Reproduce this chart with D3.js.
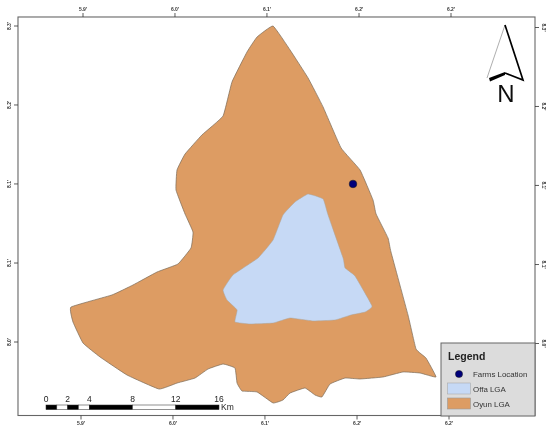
<!DOCTYPE html>
<html>
<head>
<meta charset="utf-8">
<script src="https://cdn.jsdelivr.net/npm/d3@7"></script>
<style>
body { margin: 0; background: white; }
text { font-family: "Liberation Sans", Arial, sans-serif; }
</style>
</head>
<body>
<div id="canvas"></div>
<script>
// Graticule ticks (degrees) and the labels printed on them
var lonTicks = [5.9167, 6.0, 6.0833, 6.1667, 6.25];
var lonLabels = ["5.9'", "6.0'", "6.1'", "6.2'", "6.2'"];
var latTicks = [8.3333, 8.25, 8.1667, 8.0833, 8.0];
var latLabels = ["8.3'", "8.2'", "8.1'", "8.1'", "8.0'"];

// Oyun LGA boundary
var oyunLon = [6.0902, 6.0757, 6.0666, 6.0530, 6.0449, 6.0258, 6.0105, 6.0032, 6.0023, 6.0105, 6.0177, 6.0159, 6.0041, 5.9851,
    5.9633, 5.9443, 5.9072, 5.9090, 5.9181, 5.9335, 5.9579, 5.9869, 6.0032, 6.0195, 6.0313, 6.0449, 6.0557, 6.0576, 6.0621,
    6.0757, 6.0902, 6.0992, 6.1056, 6.1191, 6.1282, 6.1345, 6.1418, 6.1554, 6.1690, 6.1898, 6.2079, 6.2233, 6.2378, 6.2287,
    6.2197, 6.2124, 6.1970, 6.1943, 6.1835, 6.1807, 6.1690, 6.1518, 6.1355, 6.1219, 6.1056];
var oyunLat = [8.3333, 8.3217, 8.3059, 8.2743, 8.2384, 8.2184, 8.1983, 8.1814, 8.1603, 8.1350, 8.1160, 8.0992, 8.0823, 8.0738,
    8.0601, 8.0496, 8.0369, 8.0211, 7.9989, 7.9842, 7.9652, 7.9504, 7.9567, 7.9620, 7.9715, 7.9768, 7.9726, 7.9567, 7.9483,
    7.9473, 7.9357, 7.9388, 7.9462, 7.9515, 7.9441, 7.9420, 7.9557, 7.9620, 7.9610, 7.9631, 7.9684, 7.9673, 7.9631, 7.9831,
    7.9926, 8.0285, 8.0949, 8.1097, 8.1350, 8.1498, 8.1814, 8.2047, 8.2479, 8.2785, 8.3080];

// Offa LGA boundary
var offaLon = [6.0992, 6.1101, 6.1219, 6.1355, 6.1400, 6.1536, 6.1554, 6.1644, 6.1798, 6.1735, 6.1608, 6.1463, 6.1264, 6.1056,
    6.0902, 6.0693, 6.0557, 6.0576, 6.0485, 6.0449, 6.0539, 6.0766, 6.0902];
var offaLat = [8.1340, 8.1477, 8.1561, 8.1509, 8.1340, 8.0886, 8.0781, 8.0696, 8.0380, 8.0316, 8.0285, 8.0232, 8.0222, 8.0253,
    8.0200, 8.0190, 8.0211, 8.0338, 8.0443, 8.0549, 8.0707, 8.0886, 8.1076];

// Farm location
var farmLon = [6.1626];
var farmLat = [8.1667];

// Scale bar
var barKm = [0, 1, 2, 3, 4, 8, 12, 16];
var barLabels = [0, 2, 4, 8, 12, 16];

// Legend
var legendLabels = ["Farms Location", "Offa LGA", "Oyun LGA"];

var width = 546;
var height = 430;
var frame = {left: 18, top: 17, right: 535, bottom: 415.5};

var oyunColor = "#dd9c63";
var offaColor = "#c6d9f5";
var farmColor = "#00007a";

var svg = d3.select("#canvas")
    .append("svg")
        .attr("width", width)
        .attr("height", height);

// The scan is a bit soft
var defs = svg.append("defs");
defs.append("filter")
        .attr("id", "soft")
        .attr("filterUnits", "userSpaceOnUse")
        .attr("x", 0)
        .attr("y", 0)
        .attr("width", width)
        .attr("height", height)
    .append("feGaussianBlur")
        .attr("stdDeviation", 0.45);

var root = svg.append("g").attr("filter", "url(#soft)");

var x = d3.scaleLinear()
    .domain([5.9167, 6.25])
    .range([81.5, 449.5]);
var y = d3.scaleLinear()
    .domain([8.0, 8.3333])
    .range([342, 26]);
var km = d3.scaleLinear()
    .domain([0, 16])
    .range([46, 219]);

function shape(lons, lats) {
    var pts = lons.map((d, i) => [x(d), y(lats[i])]);
    return d3.line().curve(d3.curveCardinalClosed.tension(0.7))(pts);
}

// Polygons
root.append("path")
    .attr("d", shape(oyunLon, oyunLat))
    .attr("fill", oyunColor)
    .attr("stroke", "#7a6a58")
    .attr("stroke-width", 0.7);
root.append("path")
    .attr("d", shape(offaLon, offaLat))
    .attr("fill", offaColor)
    .attr("stroke", "#a9a49c")
    .attr("stroke-width", 0.5);

root.selectAll(".farm")
    .data(farmLon)
    .join("circle")
        .attr("class", "farm")
        .attr("cx", d => x(d))
        .attr("cy", (d, i) => y(farmLat[i]))
        .attr("r", 3.8)
        .attr("fill", farmColor)
        .attr("stroke", "#222")
        .attr("stroke-width", 0.6);

// Frame
root.append("rect")
    .attr("x", frame.left)
    .attr("y", frame.top)
    .attr("width", frame.right - frame.left)
    .attr("height", frame.bottom - frame.top)
    .attr("fill", "none")
    .attr("stroke", "#666")
    .attr("stroke-width", 1.1);

// Graticule axes, the map is very slightly rotated so each side is shifted
function styleAxis(g) {
    g.select(".domain").remove();
    g.selectAll("line").attr("stroke", "#333").attr("stroke-width", 0.8);
    g.selectAll("text")
        .attr("font-size", 5)
        .attr("font-weight", "bold")
        .attr("fill", "#333");
}

root.append("g")
    .attr("transform", "translate(1," + frame.top + ")")
    .call(d3.axisTop(x).tickValues(lonTicks).tickSize(4).tickPadding(2).tickFormat((d, i) => lonLabels[i]))
    .call(styleAxis);
root.append("g")
    .attr("transform", "translate(-1," + frame.bottom + ")")
    .call(d3.axisBottom(x).tickValues(lonTicks).tickSize(4).tickPadding(2).tickFormat((d, i) => lonLabels[i]))
    .call(styleAxis);
root.append("g")
    .attr("transform", "translate(" + frame.left + ",-0.5)")
    .call(d3.axisLeft(y).tickValues(latTicks).tickSize(4).tickPadding(0).tickFormat((d, i) => latLabels[i]))
    .call(styleAxis)
    .selectAll("text")
        .attr("text-anchor", "middle")
        .attr("dy", 0)
        .attr("x", 0)
        .attr("y", 0)
        .attr("transform", "translate(-7,0) rotate(-90)");
root.append("g")
    .attr("transform", "translate(" + frame.right + ",1)")
    .call(d3.axisRight(y).tickValues(latTicks).tickSize(4).tickPadding(0).tickFormat((d, i) => latLabels[i]))
    .call(styleAxis)
    .selectAll("text")
        .attr("text-anchor", "middle")
        .attr("dy", 0)
        .attr("x", 0)
        .attr("y", 0)
        .attr("transform", "translate(7,0) rotate(90)");

// Scale bar
var bar = root.append("g");
bar.selectAll("rect")
    .data(barKm.slice(0, -1))
    .join("rect")
        .attr("x", d => km(d))
        .attr("y", 405)
        .attr("width", (d, i) => km(barKm[i + 1]) - km(d))
        .attr("height", 4.6)
        .attr("fill", (d, i) => i % 2 == 0 ? "black" : "white")
        .attr("stroke", "#222")
        .attr("stroke-width", 0.5);
bar.selectAll("text")
    .data(barLabels)
    .join("text")
        .attr("x", d => km(d))
        .attr("y", 401.5)
        .attr("text-anchor", "middle")
        .attr("font-size", 8.5)
        .attr("fill", "#222")
        .text(d => d);
bar.append("text")
    .attr("x", 221)
    .attr("y", 410)
    .attr("font-size", 8.5)
    .attr("fill", "#222")
    .text("Km");

// North arrow
var arrow = root.append("g");
arrow.append("path")
    .attr("d", "M505,25L487,78")
    .attr("stroke", "#999")
    .attr("stroke-width", 0.8)
    .attr("fill", "none");
arrow.append("path")
    .attr("d", "M505,25L523,80L505,73")
    .attr("stroke", "black")
    .attr("stroke-width", 1.7)
    .attr("fill", "none");
arrow.append("path")
    .attr("d", "M489,78L505,72L505,75L490,81.5Z")
    .attr("fill", "black");
arrow.append("text")
    .attr("x", 506)
    .attr("y", 102)
    .attr("text-anchor", "middle")
    .attr("font-size", 24)
    .attr("fill", "#111")
    .text("N");

// Legend
var legend = root.append("g");
legend.append("rect")
    .attr("x", 441)
    .attr("y", 343)
    .attr("width", 94)
    .attr("height", 73)
    .attr("fill", "#dcdcdc")
    .attr("stroke", "#666")
    .attr("stroke-width", 1);
legend.append("text")
    .attr("x", 448)
    .attr("y", 360)
    .attr("font-size", 10.5)
    .attr("font-weight", "bold")
    .attr("fill", "#222")
    .text("Legend");
legend.append("circle")
    .attr("cx", 459)
    .attr("cy", 374)
    .attr("r", 3.6)
    .attr("fill", farmColor)
    .attr("stroke", "#222")
    .attr("stroke-width", 0.5);
legend.append("rect")
    .attr("x", 447.5).attr("y", 383).attr("width", 23).attr("height", 11)
    .attr("fill", offaColor).attr("stroke", "#aaa").attr("stroke-width", 0.6);
legend.append("rect")
    .attr("x", 447.5).attr("y", 398).attr("width", 23).attr("height", 11)
    .attr("fill", oyunColor).attr("stroke", "#999").attr("stroke-width", 0.6);
legend.selectAll(".lab")
    .data(legendLabels)
    .join("text")
        .attr("class", "lab")
        .attr("x", 473)
        .attr("y", (d, i) => [377, 392, 406.5][i])
        .attr("font-size", 7.9)
        .attr("fill", "#333")
        .text(d => d);
</script>
</body>
</html>
